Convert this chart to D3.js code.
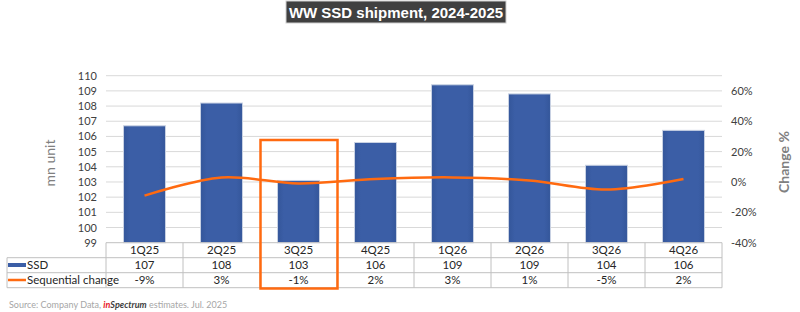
<!DOCTYPE html>
<html>
<head>
<meta charset="utf-8">
<script src="https://cdn.jsdelivr.net/npm/d3@7"></script>
<style>
  body { margin: 0; background: #fff; }
  svg { display: block; font-family: Lato, "Liberation Sans", sans-serif; }
</style>
</head>
<body>
<svg id="chart" width="800" height="312"></svg>
<script>
// data
var quarters = ["1Q25", "2Q25", "3Q25", "4Q25", "1Q26", "2Q26", "3Q26", "4Q26"];
var ssd = [106.7, 108.2, 103.1, 105.6, 109.4, 108.8, 104.1, 106.4];
var change = [-0.09, 0.03, -0.01, 0.02, 0.03, 0.01, -0.05, 0.02];
var leftTicks = [99, 100, 101, 102, 103, 104, 105, 106, 107, 108, 109, 110];
var rightTicks = [-0.4, -0.2, 0, 0.2, 0.4, 0.6];
var highlight = "3Q25";

var svg = d3.select("#chart");

var plotLeft = 106, plotRight = 722, plotTop = 75.7, plotBottom = 242.7;

var locale = d3.formatLocale({ decimal: ".", thousands: ",", grouping: [3], currency: ["", ""], minus: "-" });
var fmtV = locale.format(".0f");
var fmtP = locale.format(".0%");

var x = d3.scaleBand()
  .domain(quarters)
  .range([plotLeft, plotRight])
  .paddingInner(0.455)
  .paddingOuter(0.2275);

var y = d3.scaleLinear().domain([99, 110]).range([plotBottom, plotTop]);
var y2 = d3.scaleLinear().domain([-0.4, 0.7]).range([plotBottom, plotTop]);

var defs = svg.append("defs");
var grad = defs.append("linearGradient").attr("id", "barGrad")
  .attr("x1", 0).attr("x2", 1).attr("y1", 0).attr("y2", 0);
grad.append("stop").attr("offset", "0%").attr("stop-color", "#34569a");
grad.append("stop").attr("offset", "15%").attr("stop-color", "#3b5ea6");
grad.append("stop").attr("offset", "85%").attr("stop-color", "#3b5ea6");
grad.append("stop").attr("offset", "100%").attr("stop-color", "#34569a");

// title
svg.append("rect")
  .attr("x", 286).attr("y", 1).attr("width", 220).attr("height", 22)
  .attr("fill", "#404040").attr("stroke", "#cfcfcf").attr("stroke-width", 1);
svg.append("text")
  .attr("x", 396).attr("y", 17.5)
  .attr("text-anchor", "middle")
  .style("font-family", "'Liberation Sans', Arial, sans-serif")
  .style("font-weight", "bold").style("font-size", "15px")
  .attr("fill", "#fff")
  .text("WW SSD shipment, 2024-2025");

// gridlines
svg.append("g").selectAll("line")
  .data(leftTicks.slice(1))
  .join("line")
  .attr("x1", plotLeft).attr("x2", plotRight)
  .attr("y1", d => y(d)).attr("y2", d => y(d))
  .attr("stroke", "#d9d9d9").attr("stroke-width", 1);

// left axis
var ga = svg.append("g")
  .attr("transform", "translate(" + (plotLeft - 9) + ",0)")
  .call(d3.axisLeft(y).tickValues(leftTicks).tickSize(0).tickPadding(0));
ga.select(".domain").remove();
ga.selectAll("text").style("font-family", "Lato, sans-serif").style("font-size", "11px").attr("fill", "#404040");

// right axis
var gb = svg.append("g")
  .attr("transform", "translate(" + (plotRight + 9) + ",0)")
  .call(d3.axisRight(y2).tickValues(rightTicks).tickFormat(fmtP).tickSize(0).tickPadding(0));
gb.select(".domain").remove();
gb.selectAll("text").style("font-family", "Lato, sans-serif").style("font-size", "11px").attr("fill", "#404040");

// axis titles
svg.append("text")
  .attr("transform", "translate(55,163) rotate(-90)")
  .attr("text-anchor", "middle")
  .style("font-size", "14px").attr("fill", "#808080")
  .text("mn unit");
svg.append("text")
  .attr("transform", "translate(789,162) rotate(-90)")
  .attr("text-anchor", "middle")
  .style("font-size", "14px").style("font-weight", "bold").attr("fill", "#808080")
  .text("Change %");

// bars
svg.append("g").selectAll("rect")
  .data(quarters)
  .join("rect")
  .attr("x", d => x(d))
  .attr("y", (d, i) => y(ssd[i]))
  .attr("width", x.bandwidth())
  .attr("height", (d, i) => plotBottom - y(ssd[i]))
  .attr("fill", "url(#barGrad)")
  .attr("stroke", "#c9d2e3").attr("stroke-width", 1);

// line
var line = d3.line()
  .x((d, i) => x(quarters[i]) + x.bandwidth() / 2)
  .y(d => y2(d))
  .curve(d3.curveCatmullRom.alpha(0.5));
svg.append("path")
  .datum(change)
  .attr("d", line)
  .attr("fill", "none")
  .attr("stroke", "#ff6a10").attr("stroke-width", 2.5)
  .attr("stroke-linejoin", "round");

// data table
var rowY = [plotBottom, 257.7, 272.7, 287.7];
var step = x.step();
var colX = quarters.map(d => x(d) - x.paddingInner() * step / 2);
var tg = svg.append("g").attr("stroke", "#c0c0c0").attr("stroke-width", 1);
tg.append("line").attr("x1", plotLeft).attr("x2", plotRight).attr("y1", rowY[0]).attr("y2", rowY[0]);
[1, 2, 3].forEach(function(r) {
  tg.append("line").attr("x1", 7).attr("x2", plotRight).attr("y1", rowY[r]).attr("y2", rowY[r]);
});
tg.append("line").attr("x1", 7).attr("x2", 7).attr("y1", rowY[1]).attr("y2", rowY[3]);
tg.selectAll(".col").data(colX.concat([plotRight]))
  .join("line")
  .attr("x1", d => d).attr("x2", d => d)
  .attr("y1", rowY[0]).attr("y2", rowY[3]);

var rows = [quarters, ssd.map(fmtV), change.map(fmtP)];
rows.forEach(function(r, ri) {
  svg.append("g").selectAll("text")
    .data(r)
    .join("text")
    .attr("x", (d, i) => x(quarters[i]) + x.bandwidth() / 2)
    .attr("y", (rowY[ri] + rowY[ri + 1]) / 2 + 4)
    .attr("text-anchor", "middle")
    .style("font-size", "11.5px").attr("fill", "#262626")
    .text(d => d);
});

// legend keys in table
svg.append("rect").attr("x", 8).attr("y", 263).attr("width", 18).attr("height", 4).attr("fill", "#3b5ea6");
svg.append("line").attr("x1", 8).attr("x2", 26).attr("y1", 280).attr("y2", 280)
  .attr("stroke", "#ff6a10").attr("stroke-width", 2.5);
svg.append("text").attr("x", 27).attr("y", 269).style("font-size", "11.5px").attr("fill", "#262626").text("SSD");
svg.append("text").attr("x", 27).attr("y", 284).style("font-size", "11.5px").attr("fill", "#262626").text("Sequential change");

// highlight box around one quarter
var hi = quarters.indexOf(highlight);
svg.append("rect")
  .attr("x", colX[hi] + 0.5).attr("y", 140)
  .attr("width", step).attr("height", 148.5)
  .attr("fill", "none").attr("stroke", "#ff6a10").attr("stroke-width", 2.5);

// source
var src = svg.append("text").attr("x", 9).attr("y", 308)
  .style("font-size", "9px").attr("fill", "#a6a6a6");
src.append("tspan").text("Source: Company Data, ");
src.append("tspan").text("in").attr("fill", "#e8202a").style("font-style", "italic").style("font-weight", "bold");
src.append("tspan").text("Spectrum").attr("fill", "#404040").style("font-style", "italic").style("font-weight", "bold");
src.append("tspan").text(" estimates. Jul. 2025");
</script>
</body>
</html>
